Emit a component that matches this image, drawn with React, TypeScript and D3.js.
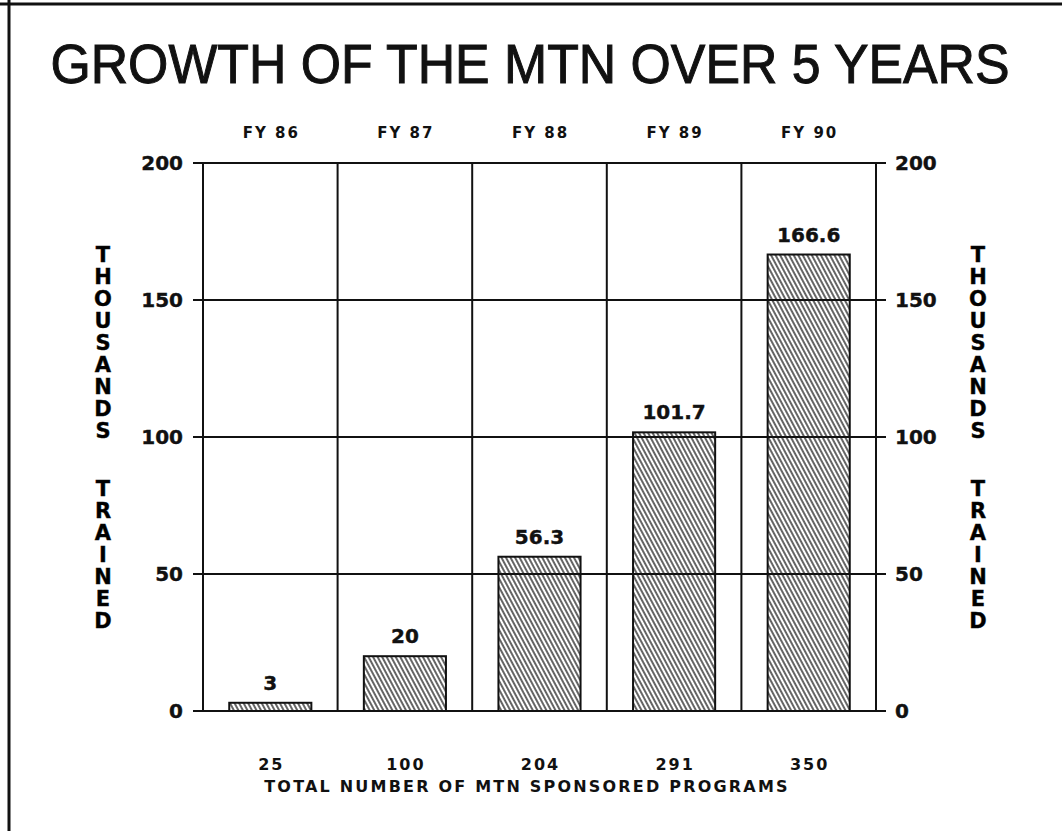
import * as d3 from 'd3';

const YEARS = ['FY 86', 'FY 87', 'FY 88', 'FY 89', 'FY 90'];
const TRAINED = [3, 20, 56.3, 101.7, 166.6];
const PROGRAMS = [25, 100, 204, 291, 350];
const Y_TICKS = [0, 50, 100, 150, 200];
const Y_WORDS = ['THOUSANDS', 'TRAINED'];

const W = 1062;
const H = 831;
const left = 203;
const right = 876;
const top = 163;
const bottom = 711;
const bold = "'DejaVu Sans', Verdana, sans-serif";

function StackedLabel({ cx }: { cx: number }) {
  const starts = [254, 488];
  const pitch = 22;
  return (
    <g fontFamily={bold} fontWeight="bold" fontSize={21} textAnchor="middle" stroke="#111" strokeWidth={0.4}>
      {Y_WORDS.map((word, wi) =>
        word.split('').map((ch, i) => (
          <text key={wi + '-' + i} x={cx} y={starts[wi] + i * pitch} dy="0.36em">
            {ch}
          </text>
        ))
      )}
    </g>
  );
}

export default function App() {
  const x = d3.scaleBand<string>().domain(YEARS).range([left, right]);
  const y = d3.scaleLinear().domain([0, 200]).range([bottom, top]);
  const barW = x.bandwidth() * 0.61;
  const cx = (d: string) => (x(d) ?? 0) + x.bandwidth() / 2;

  return (
    <svg width={W} height={H} style={{ position: 'absolute', left: 0, top: 0, background: '#fff' }}>
      <defs>
        <pattern id="hatch" width={4} height={10} patternUnits="userSpaceOnUse" patternTransform="rotate(-28)">
          <line x1={1} y1={0} x2={1} y2={10} stroke="#111" strokeWidth={1.3} />
        </pattern>
      </defs>

      {/* frame */}
      <line x1={0} x2={W} y1={4} y2={4} stroke="#111" strokeWidth={3} />
      <line x1={9} x2={9} y1={0} y2={H} stroke="#111" strokeWidth={3} />

      <g transform="translate(530,83) scale(0.942,1)">
        <text x={0} y={0} textAnchor="middle" fontFamily="'Liberation Sans', Arial, sans-serif"
          fontSize={55} stroke="#111" strokeWidth={1} fill="#111">
          GROWTH OF THE MTN OVER 5 YEARS
        </text>
      </g>

      {/* horizontal grid lines with ticks on both sides */}
      {Y_TICKS.map(t => (
        <line key={'h' + t} x1={left - 10} x2={right + 10} y1={y(t)} y2={y(t)} stroke="#111" strokeWidth={2} />
      ))}
      {/* column separators */}
      {YEARS.map(d => (
        <line key={'v' + d} x1={x(d)} x2={x(d)} y1={top} y2={bottom} stroke="#111" strokeWidth={2} />
      ))}
      <line x1={right} x2={right} y1={top} y2={bottom} stroke="#111" strokeWidth={2} />

      {/* bars */}
      {YEARS.map((d, i) => (
        <rect key={'b' + d} x={cx(d) - barW / 2} y={y(TRAINED[i])} width={barW}
          height={y(0) - y(TRAINED[i])} fill="url(#hatch)" stroke="#111" strokeWidth={2} />
      ))}
      {YEARS.map((d, i) => (
        <text key={'l' + d} x={cx(d)} y={y(TRAINED[i]) - 13} textAnchor="middle"
          fontFamily={bold} fontWeight="bold" fontSize={20} fill="#111" stroke="#111" strokeWidth={0.4}>
          {String(TRAINED[i])}
        </text>
      ))}

      {/* y tick labels */}
      {Y_TICKS.map(t => (
        <g key={'t' + t} fontFamily={bold} fontWeight="bold" fontSize={20} fill="#111" stroke="#111" strokeWidth={0.4}>
          <text x={183} y={y(t)} dy="0.36em" textAnchor="end">{t}</text>
          <text x={895} y={y(t)} dy="0.36em" textAnchor="start">{t}</text>
        </g>
      ))}

      {/* year labels on top */}
      {YEARS.map(d => (
        <text key={'fy' + d} x={cx(d) + 1} y={138} textAnchor="middle" fontFamily={bold}
          fontWeight="bold" fontSize={15} letterSpacing={2} fill="#111">
          {d}
        </text>
      ))}

      {/* program counts */}
      {YEARS.map((d, i) => (
        <text key={'p' + d} x={cx(d) + 1} y={770} textAnchor="middle" fontFamily={bold}
          fontWeight="bold" fontSize={16} letterSpacing={2} fill="#111">
          {PROGRAMS[i]}
        </text>
      ))}
      <text x={527} y={792} textAnchor="middle" fontFamily={bold} fontWeight="bold"
        fontSize={16} letterSpacing={2.2} fill="#111">
        TOTAL NUMBER OF MTN SPONSORED PROGRAMS
      </text>

      <StackedLabel cx={103} />
      <StackedLabel cx={978} />
    </svg>
  );
}
